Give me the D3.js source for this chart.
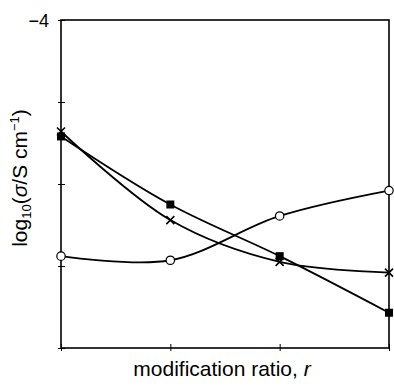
<!DOCTYPE html>
<html><head><meta charset="utf-8">
<script src="https://cdn.jsdelivr.net/npm/d3@7"></script>
<style>body{margin:0;background:#fff}svg{display:block}text{font-family:"Liberation Sans",Arial,sans-serif;fill:#000}</style>
</head><body>
<svg id="c" width="394" height="387"></svg>
<script>
const categories = [0, 1, 2, 3];
const seriesCircle = [-6.88, -6.93, -6.39, -6.08];
const seriesSquare = [-5.42, -6.25, -6.88, -7.57];
const seriesCross = [-5.36, -6.44, -6.95, -7.08];
const yTicks = [-8, -7, -6, -5, -4];
const yTickLabels = {"-4": "\u22124"};

const svg = d3.select("#c");
const L = 61, R = 389, T = 20, B = 348;
const x = d3.scaleLinear().domain([0, 3]).range([L, R]);
const y = d3.scaleLinear().domain([-8, -4]).range([B, T]);

// frame
svg.append("rect").attr("x", L).attr("y", T).attr("width", R - L).attr("height", B - T)
  .attr("fill", "none").attr("stroke", "#000").attr("stroke-width", 1.6);

// y axis ticks
const ya = d3.axisLeft(y).tickValues(yTicks).tickSizeInner(-4).tickSizeOuter(0).tickPadding(0).tickFormat(() => "");
const yg = svg.append("g").attr("transform", `translate(${L},0)`).call(ya);
yg.select(".domain").remove();
yg.selectAll(".tick line").attr("x1", -3).attr("x2", 4).attr("stroke-width", 1);
yg.selectAll(".tick").filter(d => yTickLabels[d] !== undefined).append("text")
  .attr("x", -12).attr("dy", "0.35em").attr("text-anchor", "end")
  .attr("font-size", 18).text(d => yTickLabels[d]);

// x axis ticks
const xa = d3.axisBottom(x).tickValues(categories).tickSize(0).tickFormat(() => "");
const xg = svg.append("g").attr("transform", `translate(0,${B})`).call(xa);
xg.select(".domain").remove();
xg.selectAll(".tick line").attr("y1", -4).attr("y2", 3).attr("stroke-width", 1);

const line = d3.line().x((d, i) => x(categories[i])).y(d => y(d)).curve(d3.curveCatmullRom.alpha(0.5));
[seriesCircle, seriesSquare, seriesCross].forEach(s => {
  svg.append("path").datum(s).attr("d", line).attr("fill", "none").attr("stroke", "#000").attr("stroke-width", 1.8);
});

// markers
svg.selectAll(".cir").data(seriesCircle).join("circle")
  .attr("cx", (d, i) => x(categories[i])).attr("cy", d => y(d)).attr("r", 4.2)
  .attr("fill", "#fff").attr("stroke", "#000").attr("stroke-width", 1.2);
svg.selectAll(".sq").data(seriesSquare).join("rect")
  .attr("x", (d, i) => x(categories[i]) - 4).attr("y", d => y(d) - 4).attr("width", 8).attr("height", 8)
  .attr("fill", "#000");
svg.selectAll(".cr").data(seriesCross).join("path")
  .attr("transform", (d, i) => `translate(${x(categories[i])},${y(d)})`)
  .attr("d", "M-4,-4L4,4M-4,4L4,-4").attr("stroke", "#000").attr("stroke-width", 1.6);

// axis titles
svg.append("text").attr("x", 222).attr("y", 376).attr("text-anchor", "middle").attr("font-size", 21)
  .html('modification ratio, <tspan font-style="italic">r</tspan>');
const yt = svg.append("text").attr("transform", "translate(27,178) rotate(-90)").attr("text-anchor", "middle").attr("font-size", 21);
yt.append("tspan").text("log");
yt.append("tspan").attr("font-size", 13).attr("dy", 4).text("10");
yt.append("tspan").attr("dy", -4).text("(");
yt.append("tspan").attr("font-style", "italic").text("\u03c3");
yt.append("tspan").text("/S cm");
yt.append("tspan").attr("font-size", 13).attr("dy", -8).text("\u22121");
yt.append("tspan").attr("dy", 8).text(")");
</script>
</body></html>
